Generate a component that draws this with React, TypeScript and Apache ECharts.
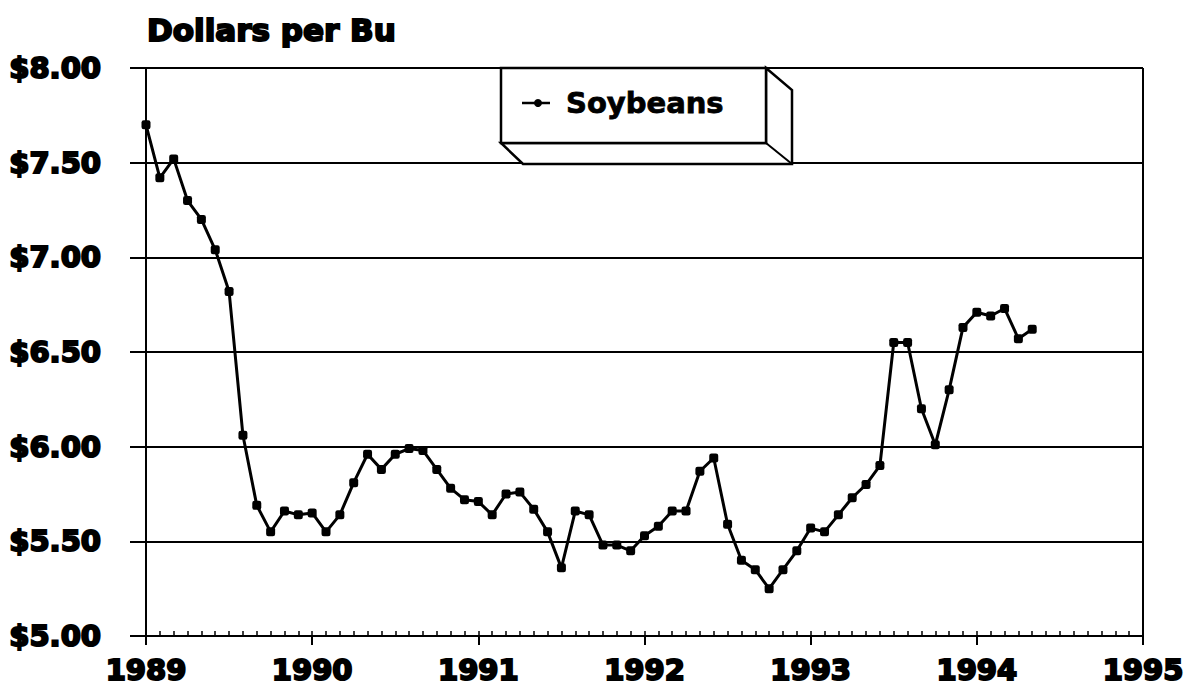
import React, { useEffect, useRef } from "react";
import * as echarts from "echarts";

// Month offsets from January 1989 (0 = Jan 1989)
const monthOffsets: number[] = [
  0, 1, 2, 3, 4, 5, 6, 7, 8, 9, 10, 11,
  12, 13, 14, 15, 16, 17, 18, 19, 20, 21, 22, 23,
  24, 25, 26, 27, 28, 29, 30, 31, 32, 33, 34, 35,
  36, 37, 38, 39, 40, 41, 42, 43, 44, 45, 46, 47,
  48, 49, 50, 51, 52, 53, 54, 55, 56, 57, 58, 59,
  60, 61, 62, 63, 64,
];

const soybeanPrices: number[] = [
  7.70, 7.42, 7.52, 7.30, 7.20, 7.04, 6.82, 6.06, 5.69, 5.55, 5.66, 5.64,
  5.65, 5.55, 5.64, 5.81, 5.96, 5.88, 5.96, 5.99, 5.98, 5.88, 5.78, 5.72,
  5.71, 5.64, 5.75, 5.76, 5.67, 5.55, 5.36, 5.66, 5.64, 5.48, 5.48, 5.45,
  5.53, 5.58, 5.66, 5.66, 5.87, 5.94, 5.59, 5.40, 5.35, 5.25, 5.35, 5.45,
  5.57, 5.55, 5.64, 5.73, 5.80, 5.90, 6.55, 6.55, 6.20, 6.01, 6.30, 6.63,
  6.71, 6.69, 6.73, 6.57, 6.62,
];

const startYear = 1989;
const yearLabels: string[] = ["1989", "1990", "1991", "1992", "1993", "1994", "1995"];
const yMin = 5;
const yMax = 8;
const yStep = 0.5;

const seriesName = "Soybeans";
const titleText = "Dollars per Bu";

const heavyFont = "'DejaVu Sans', sans-serif";

export default function App() {
  const ref = useRef<HTMLDivElement>(null);

  useEffect(() => {
    if (!ref.current) return;
    const chart = echarts.init(ref.current, null, { renderer: "svg" });

    const data = monthOffsets.map((m, i) => [m, soybeanPrices[i]]);

    const option: any = {
      animation: false,
      backgroundColor: "#fff",
      grid: { left: 146, right: 61, top: 68, bottom: 59, show: false },
      xAxis: [
        {
          type: "value",
          min: 0,
          max: 72,
          interval: 12,
          position: "bottom",
          axisLine: { show: true, onZero: false, lineStyle: { color: "#000", width: 2 } },
          axisTick: { show: true, inside: false, length: 9, lineStyle: { color: "#000", width: 2 } },
          axisLabel: {
            margin: 19,
            color: "#000",
            fontFamily: heavyFont,
            fontWeight: "bold",
            fontSize: 29,
            textBorderColor: "#000",
            textBorderWidth: 2,
            formatter: (v: number) => yearLabels[Math.round(v / 12)] ?? String(startYear + v / 12),
          },
          splitLine: { show: false },
        },
        {
          type: "value",
          min: 0,
          max: 72,
          interval: 1,
          position: "bottom",
          axisLine: { show: false },
          axisTick: { show: true, inside: true, length: 5, lineStyle: { color: "#000", width: 1.5 } },
          axisLabel: { show: false },
          splitLine: { show: false },
        },
      ],
      yAxis: {
        type: "value",
        min: yMin,
        max: yMax,
        interval: yStep,
        axisLine: { show: true, onZero: false, lineStyle: { color: "#000", width: 2 } },
        axisTick: { show: true, inside: false, length: 16, lineStyle: { color: "#000", width: 2 } },
        axisLabel: {
          margin: 45,
          color: "#000",
          fontFamily: heavyFont,
          fontWeight: "bold",
          fontSize: 29,
          textBorderColor: "#000",
          textBorderWidth: 2,
          formatter: (v: number) => "$" + v.toFixed(2),
        },
        splitLine: { show: true, lineStyle: { color: "#000", width: 2 } },
      },
      series: [
        {
          name: seriesName,
          type: "line",
          xAxisIndex: 0,
          data,
          symbol: "roundRect",
          symbolSize: 9,
          showSymbol: true,
          lineStyle: { color: "#000", width: 3 },
          itemStyle: { color: "#000" },
          z: 5,
        },
      ],
      graphic: [
        {
          type: "text",
          left: 146,
          top: 13,
          style: {
            text: titleText,
            fill: "#000",
            font: `bold 31px ${heavyFont}`,
            stroke: "#000",
            lineWidth: 2,
          },
        },
        // right border of the plot
        {
          type: "line",
          shape: { x1: 1143, y1: 68, x2: 1143, y2: 645 },
          style: { stroke: "#000", lineWidth: 2 },
          z: 10,
        },
        // 3D legend box
        {
          type: "polygon",
          shape: {
            points: [
              [766, 68],
              [792, 90],
              [792, 164],
              [523, 164],
              [501, 143],
              [766, 143],
            ],
          },
          style: { fill: "#fff", stroke: "#000", lineWidth: 2.5 },
          z: 20,
        },
        {
          type: "line",
          shape: { x1: 766, y1: 143, x2: 792, y2: 164 },
          style: { stroke: "#000", lineWidth: 2 },
          z: 21,
        },
        {
          type: "rect",
          shape: { x: 501, y: 68, width: 265, height: 75 },
          style: { fill: "#fff", stroke: "#000", lineWidth: 2.5 },
          z: 21,
        },
        {
          type: "line",
          shape: { x1: 522, y1: 103, x2: 550, y2: 103 },
          style: { stroke: "#000", lineWidth: 2.5 },
          z: 22,
        },
        {
          type: "circle",
          shape: { cx: 538, cy: 103, r: 4 },
          style: { fill: "#000" },
          z: 22,
        },
        {
          type: "text",
          x: 566,
          y: 103,
          style: {
            text: seriesName,
            fill: "#000",
            font: `bold 29px ${heavyFont}`,
            stroke: "#000",
            lineWidth: 0.8,
            textVerticalAlign: "middle",
            verticalAlign: "middle",
          },
          z: 22,
        },
      ],
    };

    chart.setOption(option);
    return () => chart.dispose();
  }, []);

  return <div ref={ref} style={{ width: 1204, height: 695, margin: -8 }} />;
}
